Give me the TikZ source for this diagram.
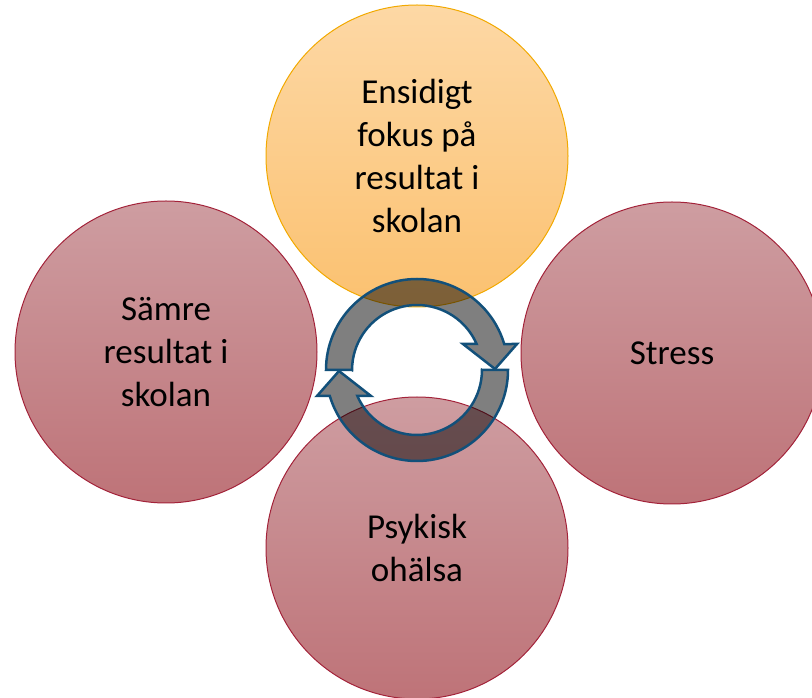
\documentclass[tikz,border=0pt]{standalone}
\usepackage{fontspec}
\setmainfont{Carlito}
\usepackage{xcolor}

\definecolor{orangetop}{HTML}{FDD8A5}
\definecolor{orangebot}{HTML}{FBC170}
\definecolor{orangeline}{HTML}{F2A900}
\definecolor{rosetop}{HTML}{CE9DA1}
\definecolor{rosebot}{HTML}{BE7378}
\definecolor{roseline}{HTML}{A3233A}
\definecolor{ringline}{HTML}{12507A}

\begin{document}
\begin{tikzpicture}[x=1pt, y=1pt,
        bubble/.style = {circle, minimum size=302pt, inner sep=0pt, line width=1pt,
                         align=center, font=\fontsize{35}{43}\selectfont},
        focus/.style = {bubble, draw=orangeline, top color=orangetop, bottom color=orangebot},
        effect/.style = {bubble, draw=roseline, top color=rosetop, bottom color=rosebot},
        cyclearrow/.style = {draw=ringline, line width=2.5pt, fill=black, fill opacity=0.5,
                             line join=miter}]
    \clip (0, 0) rectangle (812, 697);

    \node (F) at (417, 541) [focus] {Ensidigt\\fokus på\\resultat i\\skolan};
    \node (S) at (166, 345) [effect] {Sämre\\resultat i\\skolan};
    \node (T) at (672, 344) [effect] {Stress};
    \node (P) at (417, 149) [effect] {Psykisk\\ohälsa};

    \coordinate (C) at (417, 327);

    % upper arrow, left to right over the top
    \draw[cyclearrow, shift={(C)}] (-65, 0) -- (-91, 0) arc (180:16.6:91)
        -- (100, 26) -- (78, 1) -- (46, 26) -- (59.6, 26) arc (23.6:180:65) -- cycle;
    % lower arrow, right to left under the bottom
    \draw[cyclearrow, shift={(C)}] (65, 0) -- (91, 0) arc (0:-163.4:91)
        -- (-100, -26) -- (-78, -1) -- (-46, -26) -- (-59.6, -26) arc (-156.4:0:65) -- cycle;
\end{tikzpicture}
\end{document}
